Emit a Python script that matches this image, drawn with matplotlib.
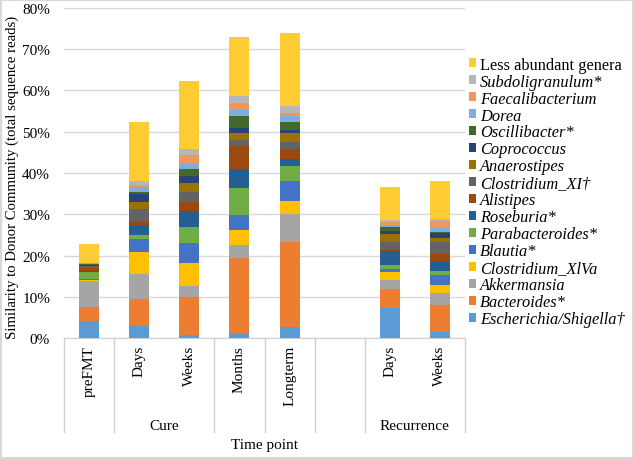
import matplotlib
matplotlib.use('Agg')
import matplotlib.pyplot as plt
from matplotlib.patches import Patch, Rectangle
import numpy as np

plt.rcParams['font.family'] = 'Liberation Serif'
plt.rcParams['font.size'] = 11

# x categories (index 5 is the empty gap slot)
categories = ['preFMT', 'Days', 'Weeks', 'Months', 'Longterm', '', 'Days', 'Weeks']

# genera from bottom to top of each stack, values in % of reads
genera = ['Escherichia/Shigella\u2020', 'Bacteroides*', 'Akkermansia', 'Clostridium_XlVa',
          'Blautia*', 'Parabacteroides*', 'Roseburia*', 'Alistipes', 'Clostridium_XI\u2020',
          'Anaerostipes', 'Coprococcus', 'Oscillibacter*', 'Dorea', 'Faecalibacterium',
          'Subdoligranulum*', 'Less abundant genera']
colors = ['#5B9BD5', '#ED7D31', '#A5A5A5', '#FFC000', '#4472C4', '#70AD47', '#255E91',
          '#9E480E', '#636363', '#997300', '#264478', '#43682B', '#7CAFDD', '#F1975A',
          '#B7B7B7', '#FFCD33']

escherichia    = [4.2, 2.8, 0.7, 1.1, 2.6, 0, 7.2, 1.5]
bacteroides    = [3.4, 6.7, 9.2, 18.3, 20.7, 0, 4.7, 6.5]
akkermansia    = [6.1, 6.0, 2.8, 3.2, 6.8, 0, 2.2, 2.8]
clostr_xiva    = [0.4, 5.4, 5.6, 3.6, 3.2, 0, 1.8, 2.0]
blautia        = [0.3, 3.1, 4.7, 3.6, 4.8, 0, 0.9, 2.5]
parabacteroides = [1.6, 1.0, 3.8, 6.6, 3.5, 0, 0.9, 1.0]
roseburia      = [0.3, 2.4, 4.1, 4.6, 1.8, 0, 3.5, 2.4]
alistipes      = [0.6, 1.0, 2.0, 5.6, 2.4, 0, 0.2, 1.7]
clostr_xi      = [0.5, 2.9, 2.4, 1.4, 1.6, 0, 1.8, 2.8]
anaerostipes   = [0.1, 1.6, 2.2, 1.7, 2.3, 0, 2.0, 1.0]
coprococcus    = [0.3, 2.0, 1.7, 1.2, 0.8, 0, 0.8, 1.2]
oscillibacter  = [0.2, 0.6, 1.8, 3.0, 1.9, 0, 0.9, 0.3]
dorea          = [0.1, 1.0, 1.4, 1.4, 1.3, 0, 0.5, 1.1]
faecalibact    = [0.0, 0.7, 2.0, 1.7, 0.8, 0, 0.7, 1.5]
subdoligran    = [0.0, 0.9, 1.4, 1.6, 1.8, 0, 0.4, 0.6]
less_abundant  = [4.6, 14.3, 16.5, 14.4, 17.7, 0, 8.0, 9.2]

series = [escherichia, bacteroides, akkermansia, clostr_xiva, blautia, parabacteroides,
          roseburia, alistipes, clostr_xi, anaerostipes, coprococcus, oscillibacter,
          dorea, faecalibact, subdoligran, less_abundant]

fig = plt.figure(figsize=(6.34, 4.60), dpi=100)
W, H = 634.0, 460.0
ax = fig.add_axes([64 / W, 121 / H, 401 / W, 330 / H])

x = np.arange(len(categories))
bottom = np.zeros(len(categories))
handles = []
for name, vals, col in zip(genera, series, colors):
    v = np.array(vals) / 100.0
    ax.bar(x, v, 0.4, bottom=bottom, color=col, linewidth=0, zorder=3)
    bottom += v
    handles.append(Patch(facecolor=col, edgecolor='none', label=name))

ax.set_xlim(-0.5, 7.5)
ax.set_ylim(0, 0.8)
ax.set_yticks(np.arange(0, 0.81, 0.1))
ax.set_yticklabels(['%d%%' % int(round(t * 100)) for t in np.arange(0, 0.81, 0.1)])
ax.yaxis.grid(True, color='#D9D9D9', linewidth=1, zorder=0)
ax.set_axisbelow(True)
for s in ['top', 'right', 'left']:
    ax.spines[s].set_visible(False)
ax.spines['bottom'].set_color('#D0D0D0')
ax.tick_params(axis='y', length=0, pad=10)
ax.tick_params(axis='x', length=0, pad=5)
ax.set_xticks(x)
ax.set_xticklabels(categories, rotation=90, va='top')

ax.set_ylabel('Similarity to Donor Community (total sequence reads)', fontsize=10.6)
ax.yaxis.set_label_coords(-(64 - 19) / 401.0, 0.49)

# multi-level category separators
tr = ax.get_xaxis_transform()
for b in [-0.5, 0.5, 2.5, 3.5, 4.5, 5.5, 7.5]:
    ax.plot([b, b], [0, -94 / 330.0], color='#D0D0D0', linewidth=1,
            transform=tr, clip_on=False)
ax.text(1.5, -88 / 330.0, 'Cure', transform=tr, ha='center', va='center')
ax.text(6.5, -88 / 330.0, 'Recurrence', transform=tr, ha='center', va='center')
ax.text(0.5, -106 / 330.0, 'Time point', transform=ax.transAxes, ha='center', va='center')

leg = fig.legend(handles[::-1], [h.get_label() for h in handles[::-1]],
                 loc='upper left', bbox_to_anchor=(462 / W, 1 - 51 / H),
                 frameon=False, handlelength=0.45, handleheight=0.45, fontsize=11.8,
                 handletextpad=0.25, labelspacing=0.06, borderaxespad=0)
for i, t in enumerate(leg.get_texts()):
    if i > 0:
        t.set_fontstyle('italic')

fig.patches.append(Rectangle((0, 0), 1, 1, transform=fig.transFigure, fill=False,
                             edgecolor='#D9D9D9', linewidth=3))

fig.savefig('out.png', dpi=100)
